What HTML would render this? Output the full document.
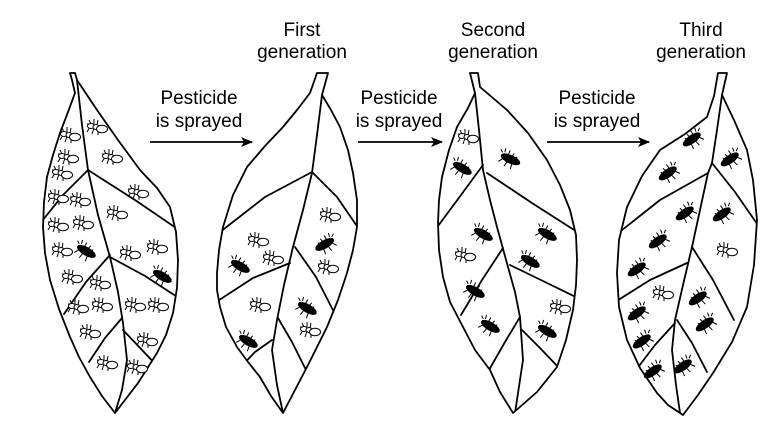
<!DOCTYPE html>
<html><head><meta charset="utf-8"><style>
html,body{margin:0;padding:0;background:#fff;width:763px;height:430px;overflow:hidden}
svg{display:block}
text{font-family:"Liberation Sans",Arial,sans-serif;font-size:19px;fill:#000}
</style></head><body>
<svg width="763" height="430" viewBox="0 0 763 430" xmlns="http://www.w3.org/2000/svg">
<defs>
<marker id="ah" markerWidth="12" markerHeight="10" refX="11" refY="5" orient="auto" markerUnits="userSpaceOnUse">
<path d="M0,0 L12,5 L0,10 L3,5 Z" fill="#000"/>
</marker>
<g id="wb" fill="#fff" stroke="#000" stroke-width="1">
<path d="M-6,-3 l-2,-4 M-3,-3 l0,-5 M0,-2 l1,-5 M-7,0 l-3,5 M-3,1 l-2,6 M1,2 l0,6 M-10,-3 l4,0" fill="none"/>
<ellipse cx="-6" cy="-1" rx="3.5" ry="2.5"/>
<ellipse cx="-1" cy="0" rx="3" ry="2.5"/>
<ellipse cx="5" cy="2" rx="5.5" ry="3.8"/>
</g>
<g id="bb" stroke="#000" stroke-width="1">
<path d="M-7,-3 l-1,-4 M-3,-2 l0,-5 M1,-1 l1,-5 M5,0 l1,-4 M-6,3 l-3,5 M-1,4 l-1,6 M4,4 l1,6 M-12,-4 l3,2" fill="none"/>
<ellipse cx="1" cy="1" rx="10" ry="3.8" fill="#000"/>
</g>
<clipPath id="c1"><polygon points="70,73 75,73 77,80 87,95 97,110 118,140 140,170 157,188 170,207 176,232 178,260 177,288 173,313 166,335 157,353 138,383 115,413 102,396 90,377 79,357 70,337 59,309 50,280 45,253 43,227 44,202 47,177 53,155 60,133 68,112 75,93 72,80"/></clipPath>
<clipPath id="c2"><polygon points="317,73 328,73 322,95 331,110 340,127 348,150 353,173 357,200 357,227 353,250 347,273 338,300 327,327 317,347 307,367 295,390 283,413 271,396 260,377 248,362 237,347 226,327 220,307 217,290 217,273 219,250 223,227 233,195 247,167 265,146 283,127 297,110 310,93"/></clipPath>
<clipPath id="c3"><polygon points="470,73 478,73 480,87 507,110 528,133 547,160 560,185 570,210 576,235 577,260 576,285 573,310 566,340 557,367 537,392 513,413 500,392 490,370 475,350 463,327 450,302 443,277 439,250 438,223 439,200 442,177 449,150 457,127 468,108 475,93"/></clipPath>
<clipPath id="c4"><polygon points="718,73 727,73 722,95 734,120 747,150 753,180 757,220 754,265 747,307 732,342 713,373 698,395 683,415 668,405 657,393 640,368 627,340 619,307 617,273 619,240 627,207 642,176 660,150 685,134 707,117 714,96"/></clipPath>
</defs>

<g fill="none" stroke="#000" stroke-width="1.8" stroke-linejoin="round" stroke-linecap="round">
<g clip-path="url(#c1)">
<polyline points="77,80 82,125 88,170 98,215 110,257 118,292 123,323 127,360 122,390 115,413"/>
<polyline points="88,170 63,195 38,226"/>
<polyline points="110,255 86,282 64,314"/>
<polyline points="122,318 105,338 89,362"/>
<polyline points="88,170 135,200 182,232"/>
<polyline points="110,257 145,276 182,300"/>
<polyline points="123,330 142,350 162,371"/>
</g>
<polygon points="70,73 75,73 77,80 87,95 97,110 118,140 140,170 157,188 170,207 176,232 178,260 177,288 173,313 166,335 157,353 138,383 115,413 102,396 90,377 79,357 70,337 59,309 50,280 45,253 43,227 44,202 47,177 53,155 60,133 68,112 75,93 72,80"/>
<g clip-path="url(#c2)">
<polyline points="322,95 317,135 312,173 303,210 293,247 284,285 277,320 272,350 277,385 283,413"/>
<polyline points="312,172 265,197 215,236"/>
<polyline points="290,263 253,278 213,304"/>
<polyline points="272,340 255,352 236,372"/>
<polyline points="312,172 337,197 361,232"/>
<polyline points="295,247 316,277 337,318"/>
<polyline points="278,318 292,342 307,372"/>
</g>
<polygon points="317,73 328,73 322,95 331,110 340,127 348,150 353,173 357,200 357,227 353,250 347,273 338,300 327,327 317,347 307,367 295,390 283,413 271,396 260,377 248,362 237,347 226,327 220,307 217,290 217,273 219,250 223,227 233,195 247,167 265,146 283,127 297,110 310,93"/>
<g clip-path="url(#c3)">
<polyline points="475,93 479,130 483,170 490,200 497,227 508,267 515,292 520,317 523,360 515,413"/>
<polyline points="483,165 461,195 435,230"/>
<polyline points="503,248 482,280 461,315"/>
<polyline points="520,317 505,342 489,370"/>
<polyline points="487,173 535,205 582,235"/>
<polyline points="510,265 545,282 582,300"/>
<polyline points="522,330 540,348 561,370"/>
</g>
<polygon points="470,73 478,73 480,87 507,110 528,133 547,160 560,185 570,210 576,235 577,260 576,285 573,310 566,340 557,367 537,392 513,413 500,392 490,370 475,350 463,327 450,302 443,277 439,250 438,223 439,200 442,177 449,150 457,127 468,108 475,93"/>
<g clip-path="url(#c4)">
<polyline points="722,95 717,130 712,163 708,173 700,210 692,247 683,285 675,320 672,350 676,385 680,413"/>
<polyline points="708,173 660,200 612,238"/>
<polyline points="687,263 650,280 612,304"/>
<polyline points="675,323 655,345 636,370"/>
<polyline points="712,163 735,192 760,228"/>
<polyline points="692,247 713,280 734,320"/>
<polyline points="677,320 692,343 707,372"/>
</g>
<polygon points="718,73 727,73 722,95 734,120 747,150 753,180 757,220 754,265 747,307 732,342 713,373 698,395 683,415 668,405 657,393 640,368 627,340 619,307 617,273 619,240 627,207 642,176 660,150 685,134 707,117 714,96"/>
</g>

<g stroke="#000" stroke-width="1.8">
<line x1="150" y1="142" x2="252" y2="142" marker-end="url(#ah)"/>
<line x1="358" y1="142" x2="442" y2="142" marker-end="url(#ah)"/>
<line x1="547" y1="142" x2="649" y2="142" marker-end="url(#ah)"/>
</g>

<g text-anchor="middle">
<text x="199" y="104">Pesticide</text><text x="199" y="127">is sprayed</text>
<text x="399" y="104">Pesticide</text><text x="399" y="127">is sprayed</text>
<text x="597" y="104">Pesticide</text><text x="597" y="127">is sprayed</text>
<text x="302" y="36">First</text><text x="302" y="58">generation</text>
<text x="493" y="36">Second</text><text x="493" y="58">generation</text>
<text x="701" y="36">Third</text><text x="701" y="58">generation</text>
</g>

<g>
<use href="#wb" x="97" y="127"/><use href="#wb" x="70" y="135"/><use href="#wb" x="112" y="157"/>
<use href="#wb" x="68" y="157"/><use href="#wb" x="62" y="173"/><use href="#wb" x="138" y="192"/>
<use href="#wb" x="58" y="197"/><use href="#wb" x="80" y="200"/><use href="#wb" x="117" y="213"/>
<use href="#wb" x="58" y="225"/><use href="#wb" x="83" y="223"/><use href="#wb" x="157" y="247"/>
<use href="#wb" x="62" y="250"/><use href="#wb" x="130" y="253"/><use href="#wb" x="72" y="277"/>
<use href="#wb" x="100" y="283"/><use href="#wb" x="78" y="307"/><use href="#wb" x="102" y="305"/>
<use href="#wb" x="135" y="305"/><use href="#wb" x="158" y="305"/><use href="#wb" x="90" y="332"/>
<use href="#wb" x="147" y="340"/><use href="#wb" x="107" y="363"/><use href="#wb" x="137" y="367"/>
<g transform="translate(86,250) rotate(30)"><use href="#bb"/></g>
<g transform="translate(162,275) rotate(30)"><use href="#bb"/></g>
</g>
<use href="#wb" x="258" y="240"/><use href="#wb" x="273" y="258"/><use href="#wb" x="330" y="215"/>
<use href="#wb" x="328" y="267"/><use href="#wb" x="260" y="305"/><use href="#wb" x="310" y="330"/>
<g transform="translate(240,265) rotate(30)"><use href="#bb"/></g>
<g transform="translate(325,243) scale(-1,1) rotate(30)"><use href="#bb"/></g>
<g transform="translate(307,307) rotate(30)"><use href="#bb"/></g>
<g transform="translate(248,340) rotate(30)"><use href="#bb"/></g>
<use href="#wb" x="468" y="137"/><use href="#wb" x="465" y="255"/><use href="#wb" x="560" y="307"/>
<g transform="translate(462,167) rotate(30)"><use href="#bb"/></g>
<g transform="translate(510,158) rotate(25)"><use href="#bb"/></g>
<g transform="translate(483,233) rotate(30)"><use href="#bb"/></g>
<g transform="translate(547,233) rotate(30)"><use href="#bb"/></g>
<g transform="translate(530,260) rotate(30)"><use href="#bb"/></g>
<g transform="translate(475,290) rotate(30)"><use href="#bb"/></g>
<g transform="translate(490,325) rotate(30)"><use href="#bb"/></g>
<g transform="translate(547,330) rotate(30)"><use href="#bb"/></g>
<use href="#wb" x="663" y="293"/><use href="#wb" x="727" y="250"/>
<g transform="translate(692,138) scale(-1,1) rotate(35)"><use href="#bb"/></g>
<g transform="translate(668,172) scale(-1,1) rotate(35)"><use href="#bb"/></g>
<g transform="translate(730,158) scale(-1,1) rotate(35)"><use href="#bb"/></g>
<g transform="translate(685,212) scale(-1,1) rotate(35)"><use href="#bb"/></g>
<g transform="translate(722,213) scale(-1,1) rotate(35)"><use href="#bb"/></g>
<g transform="translate(658,240) scale(-1,1) rotate(35)"><use href="#bb"/></g>
<g transform="translate(637,268) scale(-1,1) rotate(35)"><use href="#bb"/></g>
<g transform="translate(698,297) scale(-1,1) rotate(35)"><use href="#bb"/></g>
<g transform="translate(637,312) scale(-1,1) rotate(35)"><use href="#bb"/></g>
<g transform="translate(705,323) scale(-1,1) rotate(35)"><use href="#bb"/></g>
<g transform="translate(642,340) scale(-1,1) rotate(35)"><use href="#bb"/></g>
<g transform="translate(653,370) scale(-1,1) rotate(35)"><use href="#bb"/></g>
<g transform="translate(683,365) scale(-1,1) rotate(35)"><use href="#bb"/></g>
</svg>
</body></html>
